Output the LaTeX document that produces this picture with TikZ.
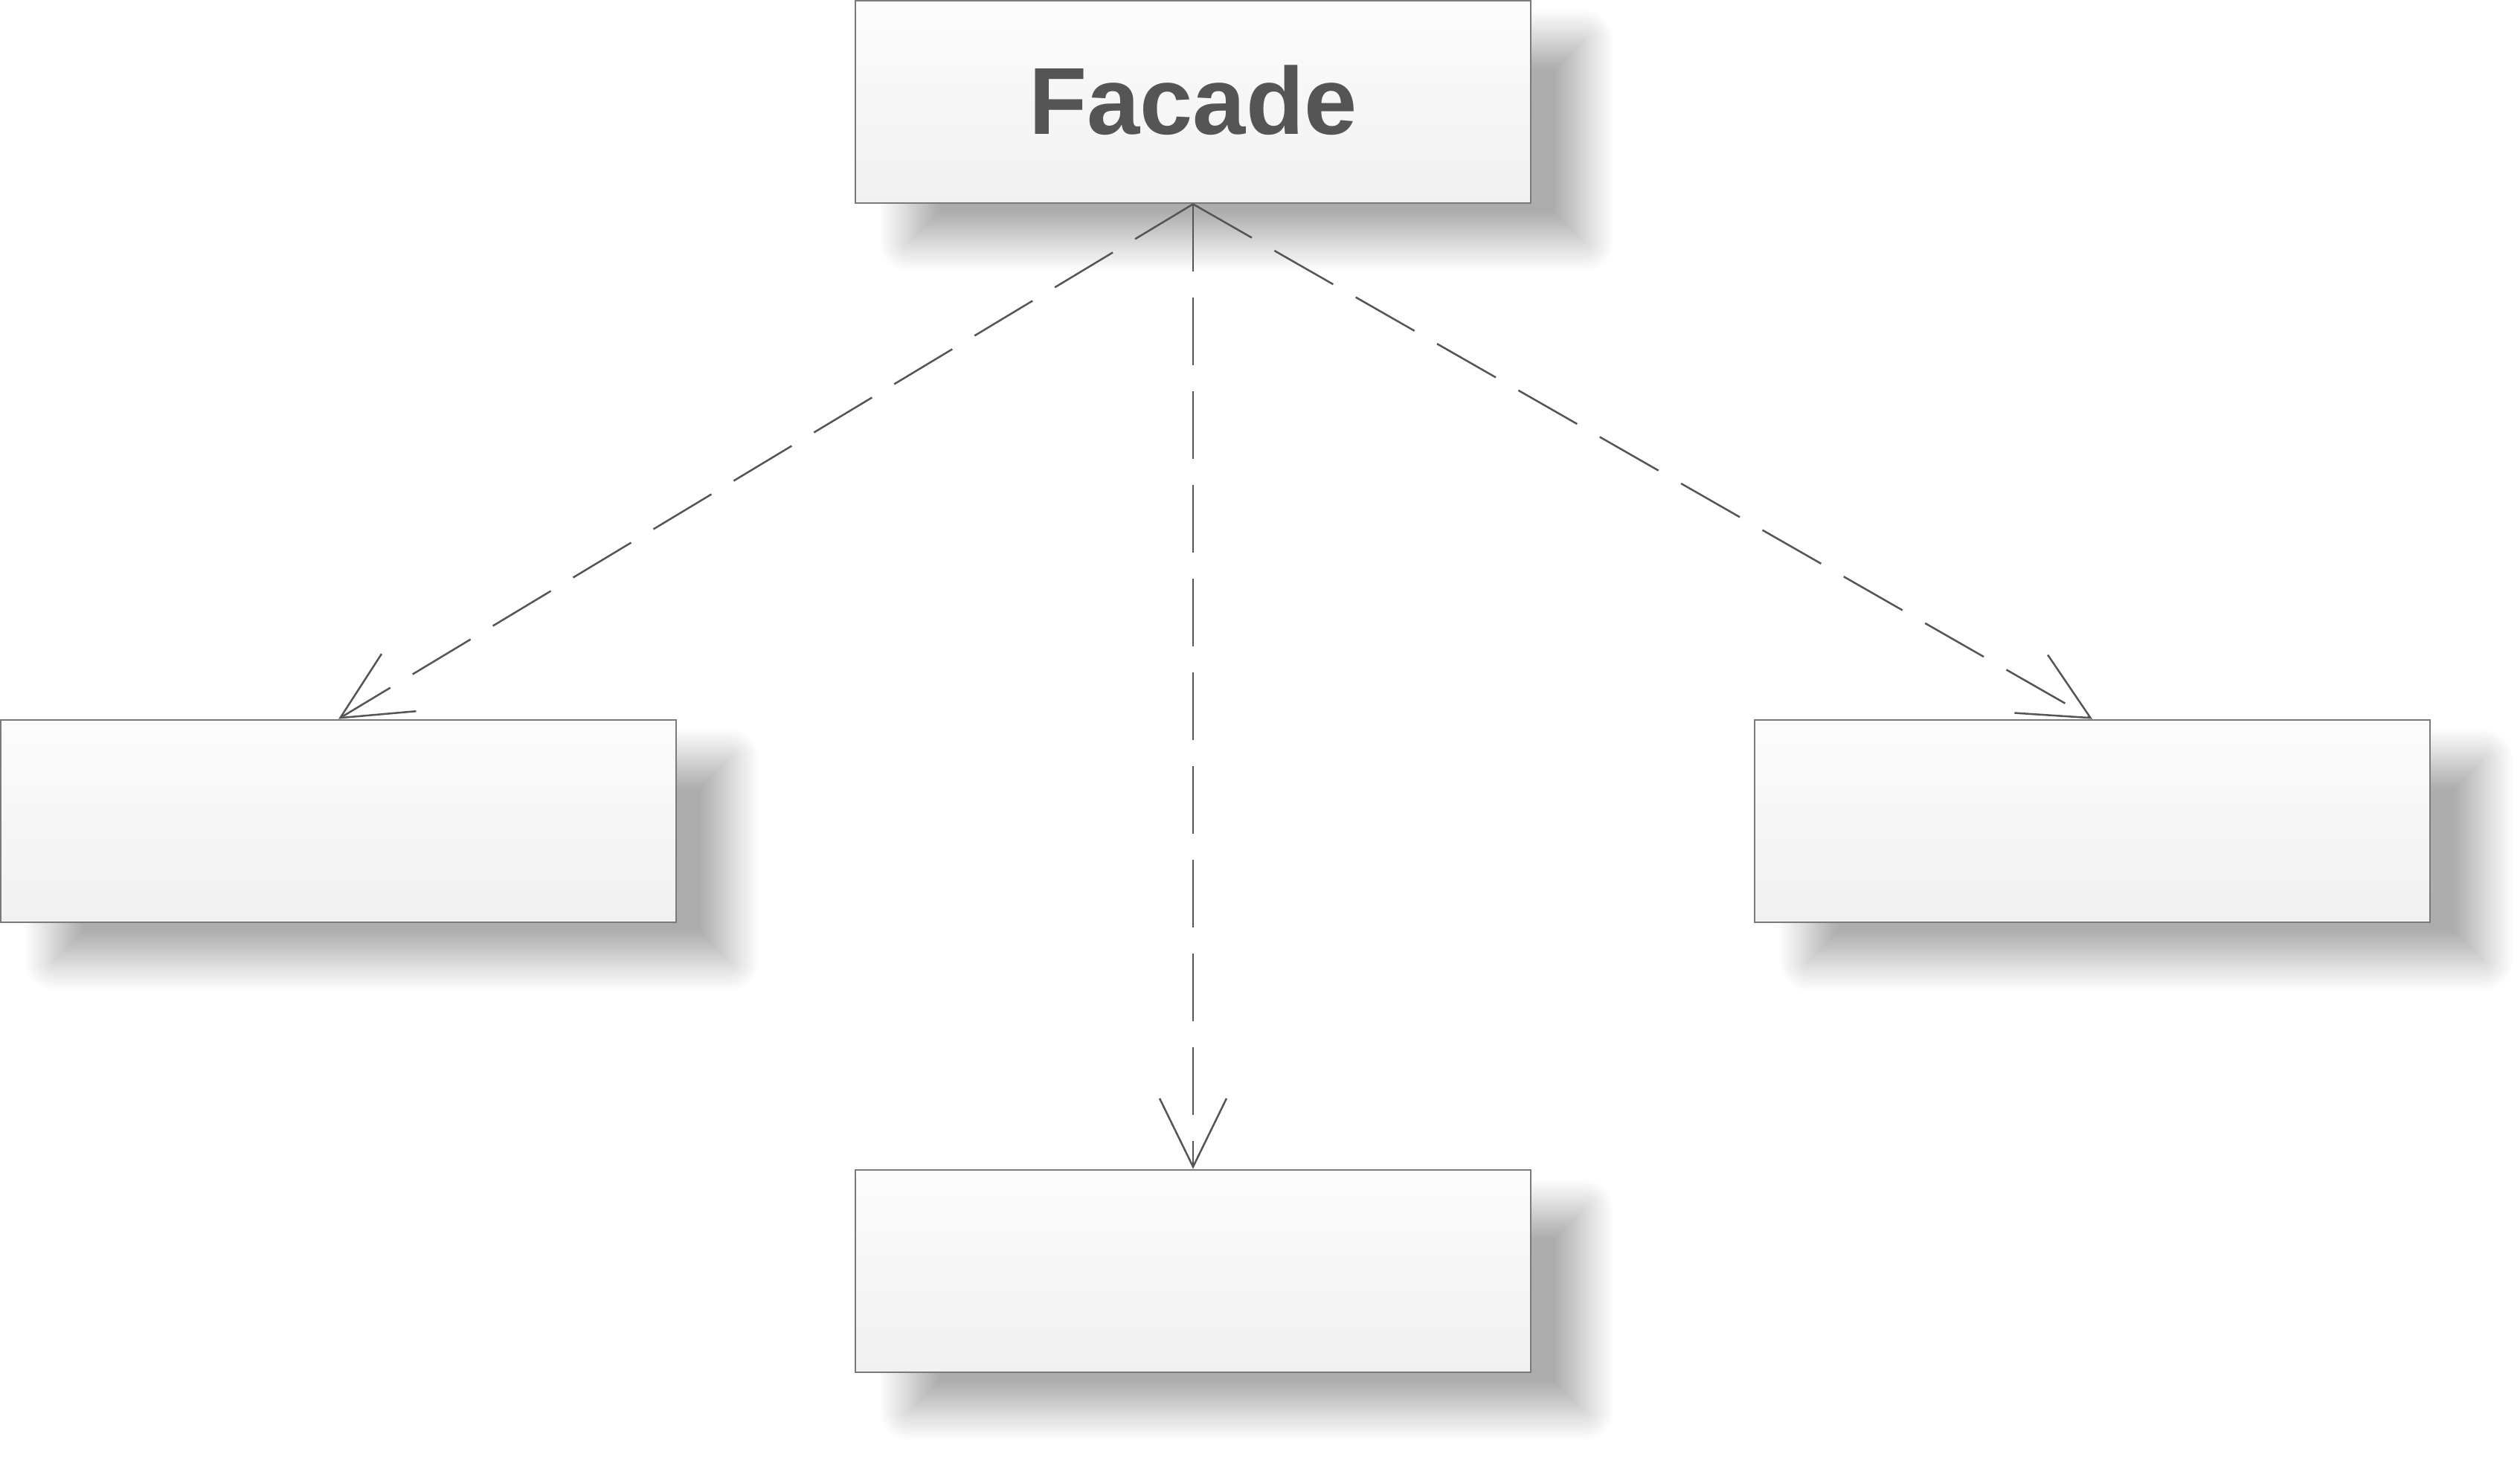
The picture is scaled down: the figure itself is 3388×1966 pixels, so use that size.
\documentclass[tikz,border=0pt]{standalone}
\usepackage{fontspec}
\setmainfont{Liberation Sans}
\usetikzlibrary{arrows.meta,shadows.blur}
\definecolor{boxline}{HTML}{7A7A7A}
\definecolor{boxtop}{HTML}{FCFCFC}
\definecolor{boxbot}{HTML}{F1F1F1}
\definecolor{arrowline}{HTML}{555555}
\definecolor{txt}{HTML}{555555}
\tikzset{
  classbox/.style={draw=boxline, line width=1.4pt, top color=boxtop, bottom color=boxbot,
    minimum width=454pt, minimum height=136pt, inner sep=0pt,
    blur shadow={shadow xshift=36pt, shadow yshift=-26pt, shadow blur radius=20pt,
      shadow blur steps=40, shadow opacity=32}},
  dep/.style={draw=arrowline, line width=1.25pt, dash pattern=on 45.5pt off 17.5pt,
    -{Straight Barb[length=46pt,width=45pt,line width=1.25pt]}},
  title/.style={text=txt, font=\bfseries\fontsize{64}{70}\selectfont}
}
\begin{document}
\begin{tikzpicture}[x=0.5pt,y=-0.5pt]
\useasboundingbox (0,0) rectangle (3388,1966);
\node[classbox, title] (facade) at (1604,137) {\raisebox{3pt}{Facade}};
\node[classbox] (left) at (455,1104) {};
\node[classbox] (right) at (2813,1104) {};
\node[classbox] (bottom) at (1604,1709) {};
\draw[dep] (facade.south) -- (left.north);
\draw[dep] (facade.south) -- (bottom.north);
\draw[dep] (facade.south) -- (right.north);
\end{tikzpicture}
\end{document}
